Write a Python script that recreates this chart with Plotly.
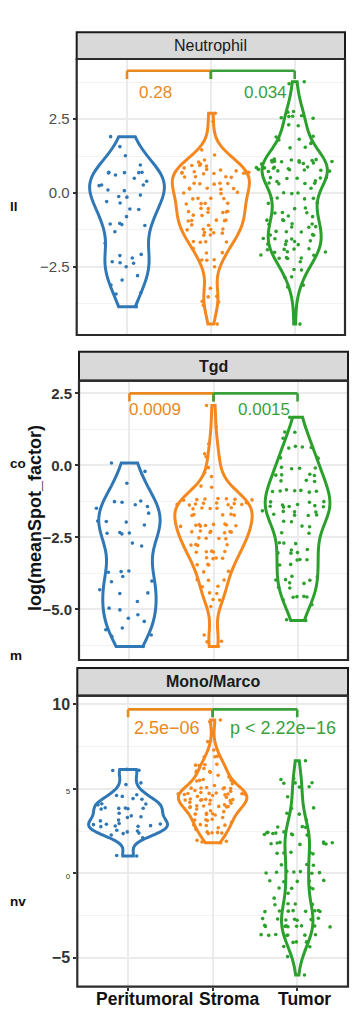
import numpy as np
import plotly.graph_objects as go

# ---------------- data ----------------
groups = ["Peritumoral", "Stroma", "Tumor"]
panel_titles = ["Neutrophil", "Tgd", "Mono/Marco"]

peri_neu = [1.91, 1.57, 1.26, 0.95, 0.70, 0.70, 0.69, 0.69, 0.68, 0.61, 0.50, 0.40, 0.27, 0.27, 0.25,
            0.10, 0.08, -0.07, -0.12, -0.14, -0.29, -0.34, -0.54, -0.56, -0.80, -1.03, -1.05, -1.07,
            -1.10, -1.31, -1.70, -2.08, -2.12, -2.20, -2.33, -2.36, -2.38, -2.50, -2.80, -2.95, -3.12,
            -3.38, -3.42, -3.85]
stroma_neu = [2.70, 2.42, 1.46, 1.29, 1.12, 1.05, 0.98, 0.93, 0.93, 0.91, 0.85, 0.80, 0.78, 0.75, 0.72,
              0.70, 0.69, 0.69, 0.68, 0.67, 0.66, 0.65, 0.55, 0.55, 0.54, 0.53, 0.33, 0.33, 0.32, 0.31,
              0.30, 0.16, 0.16, 0.15, 0.14, 0.13, 0.02, 0.00, -0.02, -0.18, -0.18, -0.19, -0.20, -0.35,
              -0.35, -0.36, -0.37, -0.52, -0.53, -0.62, -0.63, -0.64, -0.65, -0.66, -0.75, -0.76, -0.92,
              -0.92, -0.93, -0.94, -0.95, -1.08, -1.09, -1.22, -1.23, -1.24, -1.25, -1.34, -1.35, -1.36,
              -1.42, -1.43, -1.64, -1.65, -1.66, -1.67, -1.87, -2.02, -2.03, -2.26, -2.27, -2.28, -2.50,
              -3.23, -3.50, -3.52, -3.67, -3.69, -3.80, -4.44]
tumor_neu = [3.77, 3.70, 2.76, 2.74, 2.62, 2.60, 2.59, 2.55, 2.53, 2.31, 2.28, 1.92, 1.90, 1.82, 1.80,
             1.72, 1.68, 1.55, 1.53, 1.15, 1.13, 1.12, 1.10, 1.10, 1.09, 1.08, 1.07, 1.06, 1.05, 1.04,
             1.02, 1.00, 0.98, 0.88, 0.87, 0.86, 0.85, 0.84, 0.83, 0.82, 0.80, 0.79, 0.78, 0.77, 0.75,
             0.74, 0.73, 0.52, 0.52, 0.51, 0.50, 0.49, 0.41, 0.39, 0.34, 0.33, 0.32, 0.31, 0.16, 0.01,
             0.00, -0.02, -0.17, -0.18, -0.19, -0.20, -0.33, -0.35, -0.51, -0.53, -0.66, -0.67, -0.68,
             -0.78, -0.80, -0.91, -0.92, -0.93, -1.04, -1.05, -1.06, -1.14, -1.15, -1.16, -1.30, -1.31,
             -1.32, -1.41, -1.42, -1.43, -1.54, -1.55, -1.56, -1.62, -1.63, -1.64, -1.73, -1.74, -1.75,
             -1.89, -1.90, -1.91, -1.92, -1.99, -2.00, -2.01, -2.10, -2.11, -2.19, -2.20, -2.21, -2.22,
             -2.33, -2.59, -2.61, -2.84, -2.86, -3.12, -3.18, -4.44]

peri_tgd = [0.08, -0.21, -0.62, -1.24, -1.26, -1.28, -1.37, -1.43, -1.49, -1.66, -1.93, -1.95, -1.97,
            -2.07, -2.33, -2.35, -2.36, -2.38, -2.70, -2.80, -3.67, -3.69, -3.71, -3.86, -4.02, -4.04,
            -4.32, -4.43, -4.45, -4.73, -4.96, -5.02, -5.19, -5.31, -5.42, -5.65, -5.71, -5.89, -5.94,
            -6.29]
stroma_tgd = [2.08, 1.33, 0.75, 0.40, 0.30, -0.08, -0.26, -0.39, -0.72, -0.76, -1.15, -1.16, -1.17,
              -1.18, -1.19, -1.20, -1.21, -1.30, -1.31, -1.32, -1.33, -1.34, -1.35, -1.36, -1.37, -1.38,
              -1.47, -1.48, -1.49, -1.50, -1.51, -1.70, -1.71, -1.72, -1.73, -1.74, -2.04, -2.05, -2.06,
              -2.07, -2.08, -2.09, -2.10, -2.11, -2.12, -2.28, -2.29, -2.30, -2.31, -2.32, -2.33, -2.34,
              -2.52, -2.53, -2.54, -2.55, -2.75, -2.76, -2.77, -2.78, -2.98, -2.99, -3.00, -3.01, -3.02,
              -3.21, -3.22, -3.23, -3.24, -3.44, -3.45, -3.46, -3.68, -3.70, -3.97, -3.98, -3.99, -4.20,
              -4.22, -4.43, -4.45, -4.66, -4.68, -4.90, -5.89, -6.11, -6.13, -6.29]
tumor_tgd = [1.67, 1.16, 1.15, 0.94, 0.66, 0.64, 0.62, 0.60, 0.28, 0.26, 0.24, -0.07, -0.09, -0.10,
             -0.12, -0.31, -0.33, -0.34, -0.35, -0.52, -0.54, -0.56, -0.85, -0.87, -0.88, -0.89, -0.90,
             -0.91, -0.93, -1.26, -1.27, -1.28, -1.36, -1.38, -1.40, -1.42, -1.43, -1.44, -1.45, -1.58,
             -1.60, -1.61, -1.62, -1.70, -1.72, -1.73, -1.74, -1.94, -1.96, -2.11, -2.13, -2.34, -2.36,
             -2.69, -2.70, -2.72, -2.92, -2.94, -3.03, -3.04, -3.05, -3.27, -3.28, -3.29, -3.44, -3.46,
             -3.85, -3.87, -3.97, -3.98, -3.99, -4.08, -4.10, -4.24, -4.26, -4.55, -4.56, -4.57, -4.58,
             -4.67, -4.84, -5.36, -5.39]

peri_mono = [6.15, 6.10, 6.08, 5.35, 5.25, 4.65, 4.60, 4.55, 4.42, 4.38, 4.12, 4.10, 4.05, 3.88, 3.86,
             3.85, 3.84, 3.82, 3.80, 3.55, 3.40, 3.35, 3.30, 3.15, 3.10, 2.95, 2.92, 2.90, 2.88, 2.82,
             2.80, 2.78, 2.76, 2.55, 2.50, 2.45, 2.38, 2.35, 2.27, 2.10, 1.05, 1.02]
stroma_mono = [9.07, 8.97, 7.79, 7.30, 6.92, 6.90, 6.88, 6.45, 6.42, 6.40, 6.38, 6.20, 6.05, 6.02, 6.00,
               5.98, 5.80, 5.70, 5.55, 5.52, 5.50, 5.48, 5.46, 5.30, 5.20, 5.08, 5.06, 5.05, 5.04, 5.02,
               5.00, 4.90, 4.85, 4.78, 4.75, 4.73, 4.72, 4.71, 4.70, 4.69, 4.68, 4.66, 4.65, 4.60, 4.55,
               4.50, 4.40, 4.38, 4.36, 4.35, 4.34, 4.33, 4.32, 4.30, 4.20, 4.15, 4.10, 4.05, 4.00, 3.98,
               3.96, 3.95, 3.93, 3.92, 3.90, 3.80, 3.70, 3.65, 3.55, 3.52, 3.50, 3.48, 3.45, 3.30, 3.20,
               3.17, 3.15, 3.12, 3.00, 2.88, 2.86, 2.85, 2.83, 2.70, 2.60, 2.45, 2.42, 2.40, 2.38, 2.35,
               1.95, 1.90, 1.85, 1.81]
tumor_mono = [6.66, 5.60, 5.55, 5.36, 5.35, 5.33, 5.12, 5.10, 4.53, 3.87, 3.83, 3.55, 3.50, 3.15, 2.76,
              2.74, 2.72, 2.45, 2.42, 2.40, 2.38, 2.36, 2.32, 2.30, 2.28, 2.26, 1.85, 1.83, 1.81, 1.79,
              1.77, 1.75, 1.73, 1.71, 1.25, 1.22, 1.20, 1.18, 1.15, 0.52, 0.50, 0.48, 0.12, 0.10, 0.08,
              0.06, 0.04, 0.02, 0.00, -0.42, -0.44, -0.46, -0.48, -0.50, -0.85, -0.87, -0.89, -0.91,
              -1.18, -1.47, -1.80, -1.82, -1.84, -1.86, -2.20, -2.21, -2.22, -2.23, -2.24, -2.25, -2.26,
              -2.27, -2.66, -2.68, -2.70, -2.72, -2.74, -2.76, -2.78, -3.08, -3.10, -3.11, -3.12, -3.13,
              -3.14, -3.15, -3.16, -3.17, -3.62, -3.63, -3.64, -3.65, -3.66, -3.67, -3.68, -4.05, -4.06,
              -4.08, -4.09, -4.33, -4.35, -4.93, -6.02]

pvals_left = ["0.28", "0.0009", "2.5e−06"]
pvals_right = ["0.034", "0.0015", "p &lt; 2.22e−16"]

ytick_vals = [[2.5, 0, -2.5], [2.5, 0, -2.5, -5], [10, 5, 0, -5]]
ytick_text = [["2.5", "0.0", "−2.5"],
              ["<b>2.5</b>", "<b>0.0</b>", "<b>−2.5</b>", "<b>−5.0</b>"],
              ["<b>10</b>", "<span style='font-size:8px'>5</span>",
               "<span style='font-size:8px'>0</span>", "<b>−5</b>"]]
yminor_vals = [[3.75, 1.25, -1.25, -3.75], [1.25, -1.25, -3.75, -6.25], [7.5, 2.5, -2.5]]

side_labels = ["ll", "co", "m", "nv"]
yaxis_title = "log(meanSpot_factor)"

panel_data = [[peri_neu, stroma_neu, tumor_neu],
              [peri_tgd, stroma_tgd, tumor_tgd],
              [peri_mono, stroma_mono, tumor_mono]]

# ---------------- style ----------------
OFF = 8            # page body margin of the html page
W, H = 360 - OFF, 1033 - OFF
FONT = "Liberation Sans, Arial, sans-serif"
colors = ["#2f78b5", "#f5871f", "#2ca02c"]
ptxt_colors = ["#e8891e", "#3a9f3a"]
xlabel_pos = [0.19, 1.20, 2.08]   # label centres (category units), as placed in the reference

# pixel geometry (page pixels) of each panel
geom = [
    dict(x0=76.7, x1=345.0, st=32.3, top=59.0, bot=335.0, yr=[-4.81, 4.54],
         vw=[0.89, 0.92, 0.78], br=(4.14, 3.86), lab=(0.335, 1.65, 3.40), title_bold=False),
    dict(x0=79.0, x1=348.0, st=351.7, top=380.7, bot=660.0, yr=[-6.76, 2.94],
         vw=[0.73, 0.92, 0.77], br=(2.50, 2.22), lab=(0.30, 1.60, 1.93), title_bold=True),
    dict(x0=77.3, x1=348.0, st=668.0, top=695.7, bot=986.7, yr=[-6.71, 10.51],
         vw=[0.93, 0.81, 0.37], br=(9.70, 9.23), lab=(0.465, 1.83, 8.62), title_bold=True),
]


def pxx(p):
    return (p - OFF) / W


def pyy(p):
    return 1 - (p - OFF) / H


def nrd0(v):
    v = np.asarray(v, dtype=float)
    sd = v.std(ddof=1)
    iqr = np.subtract(*np.percentile(v, [75, 25]))
    lo = min(sd, iqr / 1.34) if iqr > 0 else sd
    return 0.9 * lo * len(v) ** (-0.2)


fig = go.Figure()
shapes = []
annotations = []
layout_axes = {}

for k, g in enumerate(geom):
    sx = "" if k == 0 else str(k + 1)
    xref, yref = "x" + sx, "y" + sx
    data = panel_data[k]
    # violins
    for i, grp in enumerate(groups):
        vals = data[i]
        fig.add_trace(go.Violin(
            x=[grp] * len(vals), y=vals, xaxis=xref, yaxis=yref,
            line=dict(color=colors[i], width=3), fillcolor="rgba(0,0,0,0)",
            points=False, spanmode="hard", scalemode="width", width=g["vw"][i],
            bandwidth=nrd0(vals), box_visible=False, meanline_visible=False,
            hoverinfo="skip", showlegend=False))
    # jittered points
    for i, grp in enumerate(groups):
        vals = data[i]
        fig.add_trace(go.Box(
            x=[grp] * len(vals), y=vals, xaxis=xref, yaxis=yref,
            boxpoints="all", jitter=1, pointpos=0, width=0.92,
            line=dict(width=0, color=colors[i]), fillcolor="rgba(0,0,0,0)",
            whiskerwidth=0, marker=dict(color=colors[i], size=3.6),
            hoverinfo="skip", showlegend=False))

    # comparison brackets
    yb, yt = g["br"]
    for j, (a, b) in enumerate([(0, 1), (1, 2)]):
        c = ptxt_colors[j]
        for (xa, xb, ya, yb2) in [(a, b, yb, yb), (a, a, yb, yt), (b, b, yb, yt)]:
            shapes.append(dict(type="line", xref=xref, yref=yref, x0=xa, x1=xb, y0=ya, y1=yb2,
                               line=dict(color=c, width=2.6)))
    lx1, lx2, ly = g["lab"]
    fsz = 18 if k == 2 else 17
    annotations.append(dict(x=lx1, y=ly, xref=xref, yref=yref, text=pvals_left[k], showarrow=False,
                            xanchor="center", yanchor="middle",
                            font=dict(family=FONT, size=fsz, color=ptxt_colors[0])))
    annotations.append(dict(x=lx2, y=ly, xref=xref, yref=yref, text=pvals_right[k], showarrow=False,
                            xanchor="center", yanchor="middle",
                            font=dict(family=FONT, size=fsz, color=ptxt_colors[1])))

    # strip
    shapes.append(dict(type="rect", xref="paper", yref="paper", x0=pxx(g["x0"]), x1=pxx(g["x1"]),
                       y0=pyy(g["top"]), y1=pyy(g["st"]), fillcolor="#d9d9d9",
                       line=dict(color="#1a1a1a", width=2)))
    annotations.append(dict(x=pxx((g["x0"] + g["x1"]) / 2), y=pyy((g["st"] + g["top"]) / 2),
                            xref="paper", yref="paper", showarrow=False,
                            xanchor="center", yanchor="middle",
                            text=("<b>%s</b>" % panel_titles[k]) if g["title_bold"] else panel_titles[k],
                            font=dict(family=FONT, size=16, color="#1a1a1a")))
    # panel border
    shapes.append(dict(type="rect", xref="paper", yref="paper", x0=pxx(g["x0"]), x1=pxx(g["x1"]),
                       y0=pyy(g["bot"]), y1=pyy(g["top"]), fillcolor="rgba(0,0,0,0)",
                       line=dict(color="#2b2b2b", width=2.2)))

    if k == 0:
        tf = dict(family=FONT, size=15, color="#4d4d4d")
    elif k == 1:
        tf = dict(family=FONT, size=15, color="#333333")
    else:
        tf = dict(family=FONT, size=16, color="#333333")

    layout_axes["xaxis" + sx] = dict(
        domain=[pxx(g["x0"]), pxx(g["x1"])], anchor=yref, type="category",
        categoryorder="array", categoryarray=groups, range=[-0.6, 2.6],
        showgrid=True, gridcolor="#ebebeb", gridwidth=1.6, zeroline=False, showline=False,
        showticklabels=False, ticks="outside" if k == 2 else "", ticklen=3, tickwidth=1.5,
        tickcolor="#333333", fixedrange=True)
    layout_axes["yaxis" + sx] = dict(
        domain=[pyy(g["bot"]), pyy(g["top"])], anchor=xref, range=g["yr"],
        tickmode="array", tickvals=ytick_vals[k], ticktext=ytick_text[k], tickfont=tf,
        ticks="outside", ticklen=3, tickwidth=1.8, tickcolor="#333333",
        showgrid=True, gridcolor="#ebebeb", gridwidth=1.6, zeroline=False, showline=False,
        minor=dict(tickvals=yminor_vals[k], showgrid=True, gridcolor="#f2f2f2", gridwidth=1,
                   ticks=""),
        fixedrange=True)

# category labels under the bottom panel
for grp, xp in zip(groups, xlabel_pos):
    annotations.append(dict(x=xp, y=pyy(999), xref="x3", yref="paper", showarrow=False,
                            xanchor="center", yanchor="middle", text="<b>%s</b>" % grp,
                            font=dict(family=FONT, size=17.5, color="#111111")))

# axis title and labels at the left edge
annotations.append(dict(x=pxx(35), y=pyy(518), xref="paper", yref="paper", showarrow=False,
                        xanchor="center", yanchor="middle",
                        text="<b>%s</b>" % yaxis_title, textangle=-90,
                        font=dict(family=FONT, size=18, color="#111111")))
for txt, yy in zip(side_labels, [207, 464, 655, 901]):
    annotations.append(dict(x=0.0, y=pyy(yy), xref="paper", yref="paper", showarrow=False,
                            xanchor="left", yanchor="middle", text="<b>%s</b>" % txt,
                            font=dict(family=FONT, size=13.5, color="#111111")))

fig.update_layout(
    width=W, height=H, autosize=False,
    margin=dict(l=0, r=0, t=0, b=0),
    paper_bgcolor="white", plot_bgcolor="white",
    showlegend=False, shapes=shapes, annotations=annotations,
    violinmode="overlay", boxmode="overlay",
    **layout_axes)

fig.write_html("out.html")
